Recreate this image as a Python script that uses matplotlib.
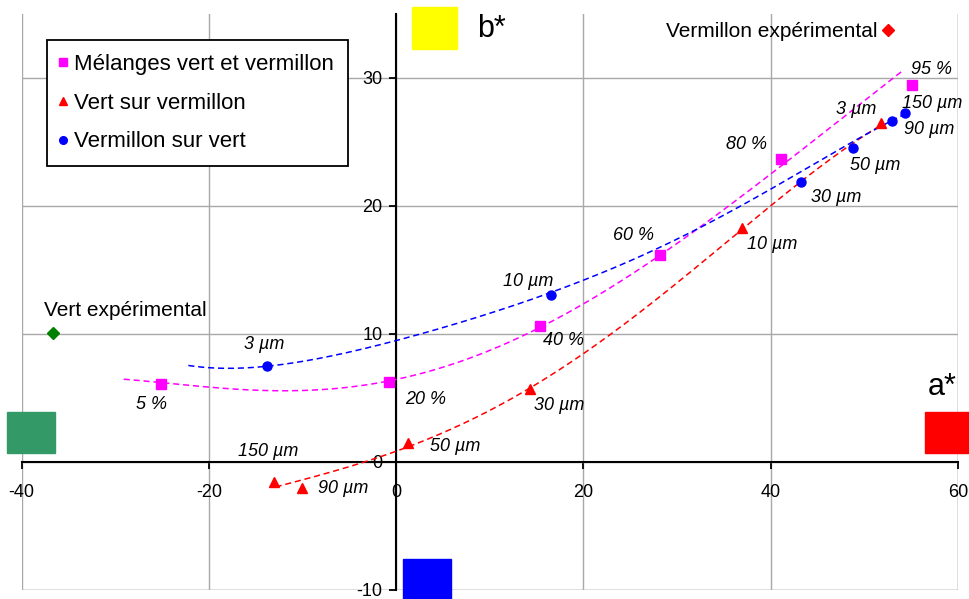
import numpy as np
import matplotlib
matplotlib.use("Agg")
import matplotlib.pyplot as plt
from matplotlib.patches import Rectangle
from numpy.polynomial import Polynomial

plt.rcParams['font.family'] = ['Liberation Sans', 'DejaVu Sans']
plt.rcParams['axes.unicode_minus'] = False

# ---- data: measured points ----
mel_labels = ["5 %", "20 %", "40 %", "60 %", "80 %", "95 %"]
mel_a = [-25.1, -0.8, 15.4, 28.2, 41.1, 55.1]
mel_b = [6.1, 6.25, 10.6, 16.2, 23.7, 29.45]

vsv_labels = ["150 µm", "90 µm", "50 µm", "30 µm", "10 µm", "3 µm"]   # vert sur vermillon
vsv_a = [-13.1, -10.1, 1.3, 14.3, 37.0, 51.8]
vsv_b = [-1.55, -2.05, 1.5, 5.7, 18.3, 26.5]

vmv_labels = ["3 µm", "10 µm", "30 µm", "50 µm", "90 µm", "150 µm"]   # vermillon sur vert
vmv_a = [-13.8, 16.5, 43.2, 48.8, 53.0, 54.35]
vmv_b = [7.5, 13.05, 21.9, 24.5, 26.65, 27.3]

vert_exp = (-36.7, 10.1)
verm_exp = (52.5, 33.75)

# ---- data: trend curves ----
mel_curve_a = [-29.1, -25.2, -19.9, -12.8, -7.4, -2.8, -0.7, 4.0, 11.1, 15.4, 20.0, 28.2, 32.45, 41.0, 45.25, 54.2]
mel_curve_b = [6.48, 6.15, 5.89, 5.68, 5.68, 5.89, 6.27, 7.19, 9.27, 10.63, 12.2, 16.17, 18.26, 23.06, 25.55, 30.6]

vmv_curve_a = [-22.2, -19.9, -18.1, -13.8, -5.65, 0.0, 8.95, 16.5, 22.0, 28.2, 33.5, 38.0, 45.2, 49.5, 54.7]
vmv_curve_b = [7.71, 7.24, 7.16, 7.52, 8.62, 9.45, 11.48, 13.02, 14.75, 16.8, 18.85, 20.55, 23.45, 25.2, 27.37]

vsv_curve_a = [-12.87, -10.3, -6.7, -3.15, 0.0, 3.96, 11.1, 14.26, 19.6, 23.2, 28.2, 37.1, 39.9, 46.0, 51.9]
vsv_curve_b = [-1.93, -1.54, -0.68, 0.1, 0.86, 1.98, 4.4, 5.75, 8.23, 10.05, 13.05, 18.38, 20.0, 23.2, 26.46]

xticks = [-40, -20, 0, 20, 40, 60]
yticks = [-10, 0, 10, 20, 30]

# label positions (a*, b*) for point annotations
mel_lab_pos = [(-26.1, 4.5), (3.1, 4.9), (17.9, 9.5), (25.4, 17.7), (37.4, 24.8), (57.2, 30.7)]
vsv_lab_pos = [(-13.7, 0.8), (-5.7, -2.1), (6.3, 1.2), (17.4, 4.4), (40.2, 17.0), (49.1, 27.5)]
vmv_lab_pos = [(-14.1, 9.2), (14.1, 14.1), (47.0, 20.7), (51.2, 23.2), (56.9, 26.0), (57.3, 28.0)]

W, H = 969, 599
fig = plt.figure(figsize=(W / 100, H / 100), dpi=100)
ax = fig.add_axes([21.7 / W, 1 - 590 / H, (957.8 - 21.7) / W, (590 - 14) / H])

ax.set_xlim(-40, 60)
ax.set_ylim(-10, 35)
ax.set_xticks(xticks)
ax.set_yticks(yticks)
ax.grid(True, color='#a8a8a8', linewidth=1.0)
ax.set_axisbelow(True)

ax.spines['left'].set_position(('data', 0))
ax.spines['bottom'].set_position(('data', 0))
ax.spines['top'].set_visible(False)
ax.spines['right'].set_visible(False)
for s in ('left', 'bottom'):
    ax.spines[s].set_linewidth(1.5)
    ax.spines[s].set_color('black')
    ax.spines[s].set_zorder(2.5)
ax.axvline(60, color='#a8a8a8', lw=1.0, zorder=0.5)
ax.axhline(-10, color='#a8a8a8', lw=1.0, zorder=0.5)

ax.tick_params(axis='both', direction='out', length=5, width=1.3, labelsize=13)
ax.tick_params(axis='x', pad=11)
ax.tick_params(axis='y', pad=5)

dash = (0, (4, 2.5))

def smooth_trend(ca, cb, color, deg):
    # smooth curve through the read trend-line points
    p = Polynomial.fit(ca, cb, deg)
    xx = np.linspace(min(ca), max(ca), 300)
    ax.plot(xx, p(xx), color=color, lw=1.1, ls=dash, zorder=3)

smooth_trend(mel_curve_a, mel_curve_b, '#FF00FF', 5)
smooth_trend(vsv_curve_a, vsv_curve_b, '#FF0000', 4)
smooth_trend(vmv_curve_a, vmv_curve_b, '#0000FF', 5)

ax.plot(mel_a, mel_b, 's', color='#FF00FF', ms=7, ls='none', zorder=4)
ax.plot(vsv_a, vsv_b, '^', color='#FF0000', ms=7, ls='none', zorder=4)
ax.plot(vmv_a, vmv_b, 'o', color='#0000FF', ms=6.5, ls='none', zorder=4)

ax.plot([vert_exp[0]], [vert_exp[1]], 'D', color='#008000', ms=6.5, zorder=4)
ax.plot([verm_exp[0]], [verm_exp[1]], 'D', color='#FF0000', ms=6.5, zorder=4)
ax.text(vert_exp[0] - 0.9, vert_exp[1] + 1.7, "Vert expérimental", fontsize=15,
        ha='left', va='center')
ax.text(verm_exp[0] - 1.1, verm_exp[1] - 0.1, "Vermillon expérimental", fontsize=15,
        ha='right', va='center')

for labs, pos in ((mel_labels, mel_lab_pos), (vsv_labels, vsv_lab_pos), (vmv_labels, vmv_lab_pos)):
    for t, (x, y) in zip(labs, pos):
        ax.text(x, y, t, fontsize=13, style='italic', ha='center', va='center', zorder=5)

# legend
h1, = ax.plot([], [], 's', color='#FF00FF', ms=6)
h2, = ax.plot([], [], '^', color='#FF0000', ms=6)
h3, = ax.plot([], [], 'o', color='#0000FF', ms=5.5)
leg = ax.legend([h1, h2, h3],
                ["Mélanges vert et vermillon", "Vert sur vermillon", "Vermillon sur vert"],
                loc='upper left', bbox_to_anchor=(47 / W, 1 - 40 / H),
                bbox_transform=fig.transFigure, borderaxespad=0,
                fontsize=16, labelspacing=0.8, handlelength=0.2, handletextpad=0.4,
                borderpad=0.62, fancybox=False, framealpha=1, edgecolor='black')
leg.get_frame().set_linewidth(1.3)
leg.set_zorder(6)

# color chips and axis names (figure pixels)
def chip(x0, y0, x1, y1, color):
    fig.add_artist(Rectangle((x0 / W, 1 - y1 / H), (x1 - x0) / W, (y1 - y0) / H,
                             transform=fig.transFigure, color=color, zorder=10))

chip(412, 7, 457, 49, '#FFFF00')
chip(7, 412, 55, 453, '#339966')
chip(925, 412, 969, 453, '#FF0000')
chip(403, 559, 451, 599, '#0000FF')

fig.text(477 / W, 1 - 37 / H, "b*", fontsize=22, ha='left', va='baseline')
fig.text(957 / W, 1 - 395 / H, "a*", fontsize=22, ha='right', va='baseline')

fig.savefig("out.png", dpi=100)
